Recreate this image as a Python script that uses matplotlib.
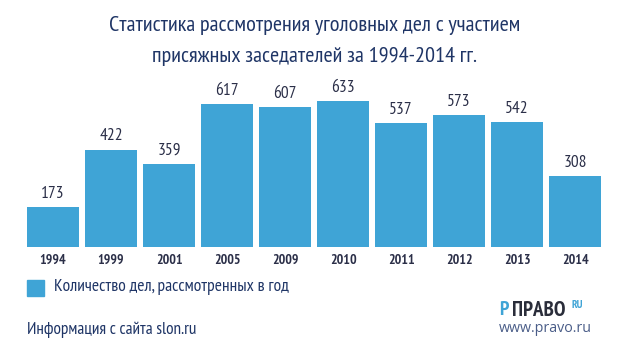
import matplotlib
matplotlib.use("Agg")
import matplotlib.pyplot as plt
from matplotlib.patches import Rectangle

years = ["1994", "1999", "2001", "2005", "2009", "2010", "2011", "2012", "2013", "2014"]
cases = [173, 422, 359, 617, 607, 633, 537, 573, 542, 308]

title = "Статистика рассмотрения уголовных дел с участием\nприсяжных заседателей за 1994-2014 гг."
legend_label = "Количество дел, рассмотренных в год"
source = "Информация с сайта slon.ru"

NARROW = ["PT Sans Narrow", "Roboto Condensed", "DejaVu Sans"]
BAR = "#3fa4d6"
NAVY = "#1f3566"
DARK = "#2b2f48"

fig = plt.figure(figsize=(6.3, 3.51), dpi=100)
ax = fig.add_axes([0.0335, 0.2963, 0.930, 0.4607])

x = range(len(years))
ax.bar(x, cases, width=0.9, color=BAR)
for i, v in enumerate(cases):
    ax.text(i, v + 22, str(v), ha="center", va="bottom", fontsize=12.5,
            color=DARK, family=NARROW)

ax.set_xlim(-0.55, len(years) - 0.45)
ax.set_ylim(0, 700)
ax.set_xticks(list(x))
ax.set_xticklabels(years, fontsize=10, fontweight="bold", color=DARK, family=NARROW)
ax.tick_params(axis="x", length=0, pad=5)
ax.set_yticks([])
for s in ax.spines.values():
    s.set_visible(False)

fig.text(0.5, 1 - 41 / 351, title, ha="center", va="center", fontsize=16,
         color=NAVY, family=NARROW, linespacing=1.8)

# legend
fig.patches.append(Rectangle((27 / 630, 1 - 296 / 351), 17 / 630, 16 / 351,
                             transform=fig.transFigure, color=BAR))
fig.text(54 / 630, 1 - 287 / 351, legend_label, ha="left", va="center",
         fontsize=12.6, color=NAVY, family=NARROW)

fig.text(27 / 630, 1 - 330 / 351, source, ha="left", va="center",
         fontsize=12.4, color=NAVY, family=NARROW)

# logo
fig.text(499 / 630, 1 - 310 / 351, "P", ha="left", va="center", fontsize=14,
         color=BAR, fontweight="bold", family=NARROW)
fig.text(512 / 630, 1 - 310 / 351, "ПРАВО", ha="left", va="center", fontsize=15,
         color="#2a2d3a", fontweight="bold", family=NARROW)
fig.text(571 / 630, 1 - 305 / 351, "RU", ha="left", va="center", fontsize=8,
         color=BAR, fontweight="bold", family=NARROW)
fig.text(499 / 630, 1 - 329 / 351, "www.pravo.ru", ha="left", va="center",
         fontsize=10.3, color="#4a5d88", family=["Open Sans", "DejaVu Sans"])

fig.savefig("out.png", dpi=100)
